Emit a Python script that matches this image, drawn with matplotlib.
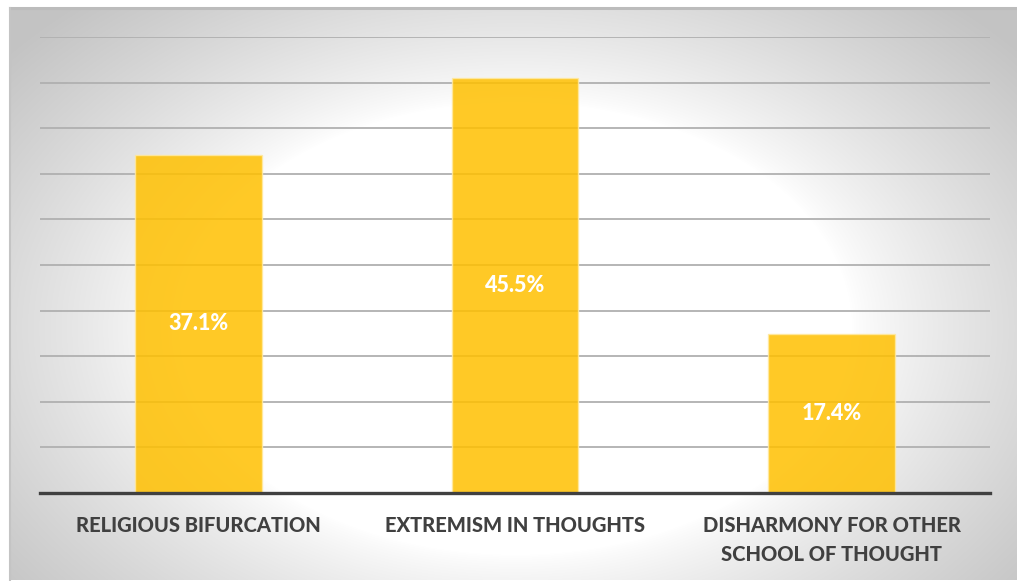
import numpy as np
import matplotlib.pyplot as plt

# Dane
categories = ['RELIGIOUS BIFURCATION', 'EXTREMISM IN THOUGHTS', 'DISHARMONY FOR OTHER\nSCHOOL OF THOUGHT']
values = [37.1, 45.5, 17.4]
value_labels = ['37.1%', '45.5%', '17.4%']

plt.rcParams['font.family'] = ['Lato', 'DejaVu Sans']

W, H = 1017, 581
fig = plt.figure(figsize=(W / 100, H / 100), dpi=100)

# Tło z gradientem radialnym (białe centrum, szare brzegi)
bg = fig.add_axes([10 / W, 1 / H, 1007 / W, 572 / H])
gx, gy = np.meshgrid(np.arange(1007), np.arange(572))
r = np.sqrt(((gx - 505) / 580.0) ** 2 + ((gy - 320) / 390.0) ** 2)
t = np.clip((r - 0.58) / 0.55, 0, 1) ** 0.8
shade = 255 - 60 * t
img = np.dstack([shade, shade, shade]) / 255.0
bg.imshow(img, aspect='auto', extent=[0, 1, 0, 1], origin='upper')
bg.set_xlim(0, 1)
bg.set_ylim(0, 1)
bg.set_xticks([])
bg.set_yticks([])
for s in bg.spines.values():
    s.set_visible(False)
bg.plot([0, 1], [1, 1], color='#bcbcbc', lw=2.2, transform=bg.transAxes, clip_on=False)
bg.plot([0, 0], [0, 1], color='#c4c4c4', lw=1.5, transform=bg.transAxes, clip_on=False)

# Wykres słupkowy
ax = fig.add_axes([40 / W, (H - 493) / H, 950 / W, (493 - 37) / H])
ax.patch.set_alpha(0)
x = np.arange(len(categories))
ax.set_xlim(-0.5, 2.5)
ax.set_ylim(0, 50)
ax.set_yticks(np.arange(5, 51, 5))
ax.yaxis.grid(True, color='#b0b0b0', lw=1.3)
ax.set_axisbelow(True)
ax.tick_params(axis='y', left=False, labelleft=False)
ax.tick_params(axis='x', bottom=False, pad=13)

bars = ax.bar(x, values, width=0.4, color='#FFC000', alpha=0.85,
              edgecolor='#ffe9a0', linewidth=1.0, zorder=3)
for xi, v, lbl in zip(x, values, value_labels):
    ax.text(xi, v / 2, lbl, ha='center', va='center', color='white',
            fontsize=15.5, fontweight='black', zorder=4)

ax.set_xticks(x)
ax.set_xticklabels(categories, fontsize=14.5, fontweight='black', color='#404040',
                   linespacing=1.6, va='top')

for side in ['top', 'right', 'left']:
    ax.spines[side].set_visible(False)
ax.spines['bottom'].set_color('#404040')
ax.spines['bottom'].set_linewidth(2.4)
ax.spines['bottom'].set_zorder(5)

fig.savefig('out.png', dpi=100)
